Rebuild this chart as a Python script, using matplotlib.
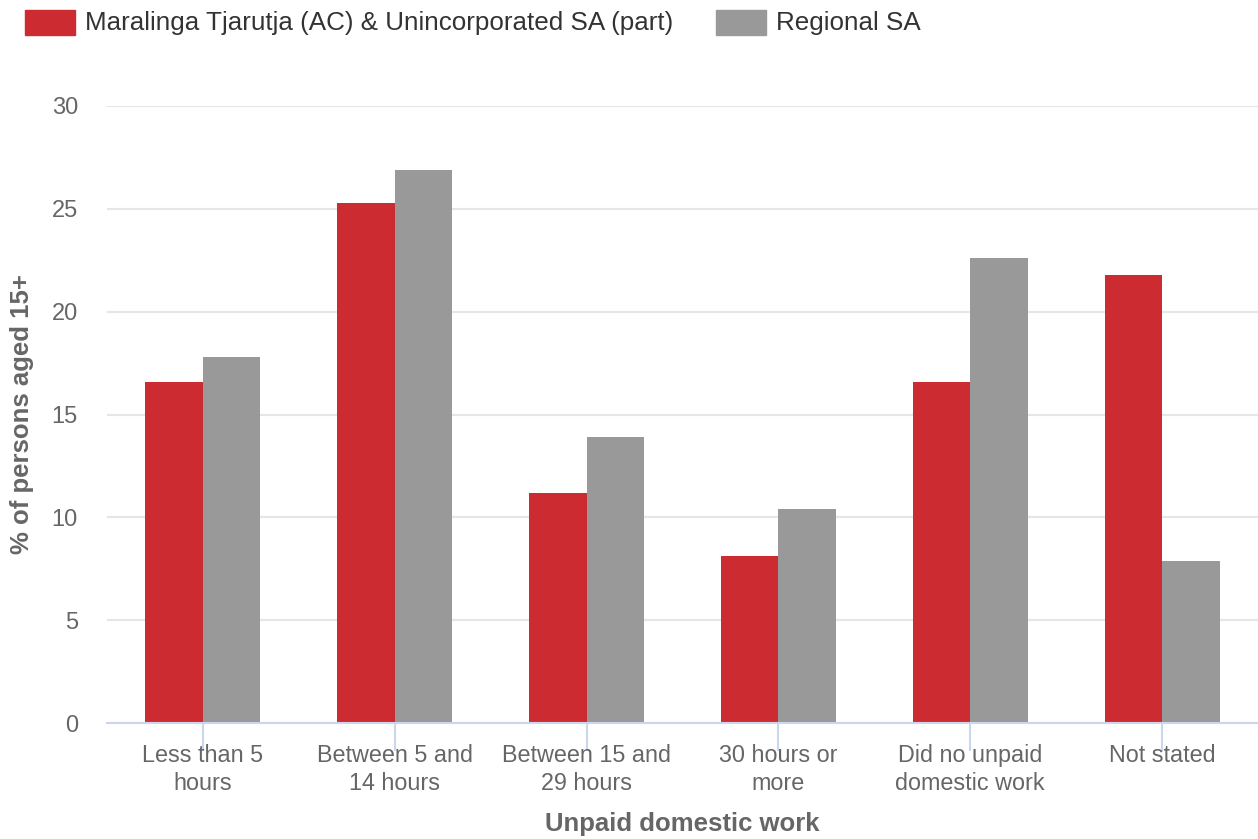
import numpy as np
import matplotlib
matplotlib.use('Agg')
from matplotlib import pyplot as plt
from matplotlib.patches import Rectangle

plt.rcParams['font.family'] = ['Liberation Sans', 'DejaVu Sans']

categories = ['Less than 5\nhours', 'Between 5 and\n14 hours', 'Between 15 and\n29 hours',
              '30 hours or\nmore', 'Did no unpaid\ndomestic work', 'Not stated']
maralinga = [16.6, 25.3, 11.2, 8.1, 16.6, 21.8]
regional = [17.8, 26.9, 13.9, 10.4, 22.6, 7.9]
series_names = ['Maralinga Tjarutja (AC) & Unincorporated SA (part)', 'Regional SA']
yticks = [0, 5, 10, 15, 20, 25, 30]

red = '#cc2b31'
grey = '#999999'
txt = '#666666'

W, H = 1258, 839
fig = plt.figure(figsize=(W / 100, H / 100), dpi=100)
ax = fig.add_axes([107 / W, 1 - 723 / H, (W - 107) / W, (723 - 106) / H])

x = np.arange(len(categories))
bw = 0.3
ax.bar(x - bw / 2, maralinga, width=bw, color=red, zorder=3)
ax.bar(x + bw / 2, regional, width=bw, color=grey, zorder=3)

ax.set_xlim(-0.5, len(categories) - 0.5)
ax.set_ylim(0, 30)
ax.set_yticks(yticks)
ax.yaxis.grid(True, color='#e6e6e6', linewidth=1.5, zorder=0)
ax.tick_params(axis='y', length=0, labelsize=17, labelcolor=txt, pad=21)
ax.set_xticks(x)
ax.set_xticklabels(categories, linespacing=1.28)
ax.tick_params(axis='x', length=20, width=1.5, color='#ccd6eb', labelsize=16.8,
               labelcolor=txt, pad=-5)

for s in ['top', 'right', 'left']:
    ax.spines[s].set_visible(False)
ax.spines['bottom'].set_color('#ccd6eb')
ax.spines['bottom'].set_linewidth(1.5)
ax.spines['bottom'].set_zorder(4)

ax.set_xlabel('Unpaid domestic work', fontsize=18.5, fontweight='bold', color=txt, labelpad=12)
fig.text(22 / W, 1 - 414 / H, '% of persons aged 15+', rotation=90, fontsize=18.5,
         fontweight='bold', color=txt, ha='center', va='center')

# legend along the top
for (x0, x1, tx), name, c in zip([(25, 75, 85), (716, 766, 776)], series_names, [red, grey]):
    fig.patches.append(Rectangle((x0 / W, 1 - 35 / H), (x1 - x0) / W, 25 / H,
                                 transform=fig.transFigure, color=c))
    fig.text(tx / W, 1 - 23 / H, name, fontsize=18.7, color='#333333', va='center', ha='left')

plt.savefig('out.png', dpi=100)
plt.close()
